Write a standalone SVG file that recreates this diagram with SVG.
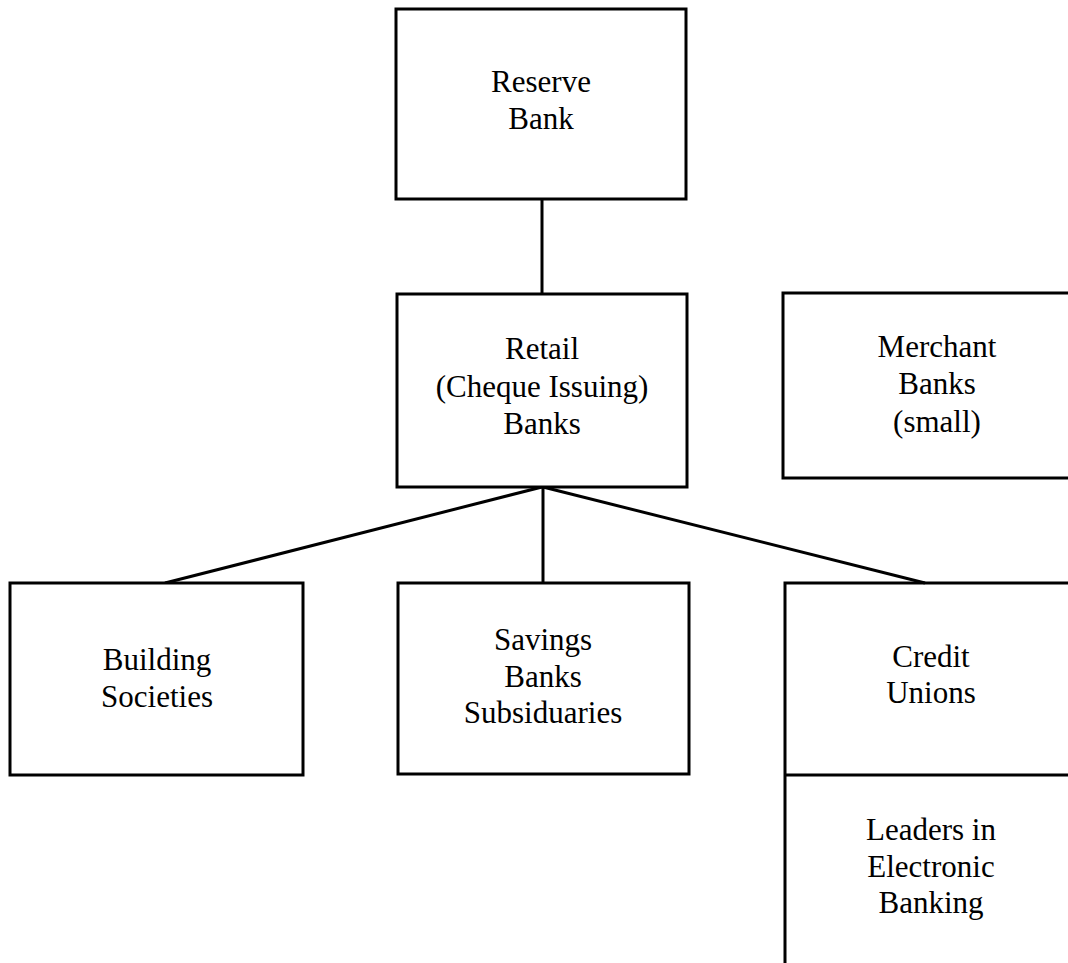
<svg xmlns="http://www.w3.org/2000/svg" width="1068" height="963" viewBox="0 0 1068 963">
<style>
.box{fill:#fff;stroke:#000;stroke-width:3}
.ln{fill:none;stroke:#000;stroke-width:3}
text{font-family:"Liberation Serif","Times New Roman",serif;font-size:31px;fill:#000;text-anchor:middle}
</style>
<rect width="1068" height="963" fill="#fff"/>
<g id="connectors">
<line class="ln" x1="542" y1="199" x2="542" y2="294"/>
<line class="ln" x1="542" y1="487" x2="165" y2="583"/>
<line class="ln" x1="543" y1="487" x2="543" y2="583"/>
<line class="ln" x1="543" y1="487" x2="925" y2="583"/>
</g>
<g id="reserve">
<rect class="box" x="396" y="9" width="290" height="190"/>
<text x="541" y="92">Reserve</text>
<text x="541" y="129">Bank</text>
</g>
<g id="retail">
<rect class="box" x="397" y="294" width="290" height="193"/>
<text x="542" y="359">Retail</text>
<text x="542" y="397">(Cheque Issuing)</text>
<text x="542" y="434">Banks</text>
</g>
<g id="merchant">
<rect class="box" x="783" y="293" width="320" height="185"/>
<text x="937" y="357">Merchant</text>
<text x="937" y="394">Banks</text>
<text x="937" y="432">(small)</text>
</g>
<g id="building">
<rect class="box" x="10" y="583" width="293" height="192"/>
<text x="157" y="670">Building</text>
<text x="157" y="707">Societies</text>
</g>
<g id="savings">
<rect class="box" x="398" y="583" width="291" height="191"/>
<text x="543" y="650">Savings</text>
<text x="543" y="687">Banks</text>
<text x="543" y="723">Subsiduaries</text>
</g>
<g id="credit">
<path class="ln" d="M785,963 V583 H1070 M785,775 H1070"/>
<text x="931" y="667">Credit</text>
<text x="931" y="703">Unions</text>
</g>
<g id="leaders">
<text x="931" y="840">Leaders in</text>
<text x="931" y="877">Electronic</text>
<text x="931" y="913">Banking</text>
</g>
</svg>
